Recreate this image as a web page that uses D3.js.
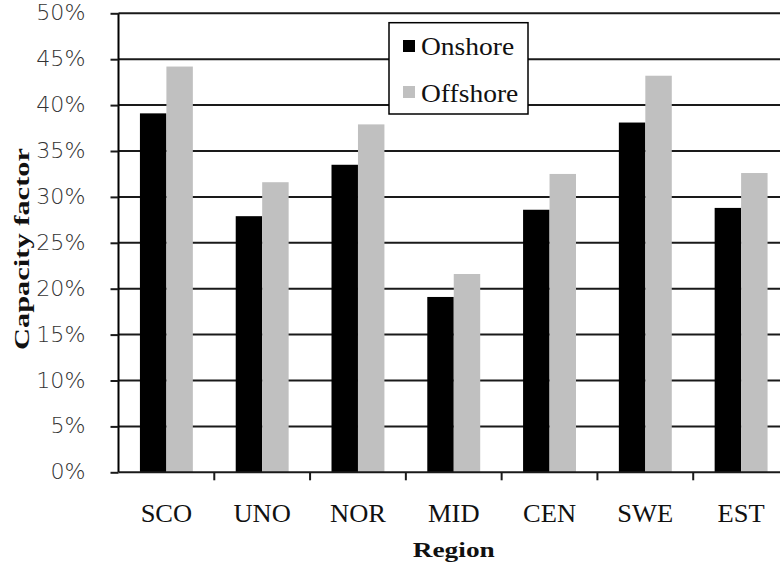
<!DOCTYPE html>
<html><head><meta charset="utf-8">
<script src="https://cdn.jsdelivr.net/npm/d3@7"></script>
<style>body{margin:0;background:#fff}svg{display:block}</style>
</head><body>
<svg id="c" width="780" height="568"></svg>
<script>
const categories = ["SCO","UNO","NOR","MID","CEN","SWE","EST"];
const seriesNames = ["Onshore","Offshore"];
const onshore = [39.1, 27.9, 33.5, 19.1, 28.6, 38.1, 28.8];
const offshore = [44.2, 31.6, 37.9, 21.6, 32.5, 43.2, 32.6];
const yTicks = [0,5,10,15,20,25,30,35,40,45,50];
const colors = {"Onshore":"#000000","Offshore":"#c0c0c0"};

(function(){
const svg = d3.select("#c");
const pL = 118.5, pR = 789, pT = 13.3, pB = 472.3;
const x0 = d3.scaleBand().domain(categories).range([pL, pR]).padding(0);
const x1 = d3.scaleBand().domain(seriesNames).range([0, x0.bandwidth()]).paddingInner(0).paddingOuter(0.81);
const y = d3.scaleLinear().domain([0, 50]).range([pB, pT]);
const vals = {"Onshore": onshore, "Offshore": offshore};

function stretch(sel, f){
  sel.each(function(){
    const w = this.getComputedTextLength();
    d3.select(this).attr("textLength", w*f).attr("lengthAdjust","spacingAndGlyphs");
  });
}

// gridlines
svg.append("g").selectAll("line").data(yTicks.filter(t=>t>0)).join("line")
  .attr("x1", pL).attr("x2", 780).attr("y1", d=>y(d)).attr("y2", d=>y(d))
  .attr("stroke", "#1a1a1a").attr("stroke-width", 2);

// bars
const g = svg.append("g");
categories.forEach((c,i)=>{
  seriesNames.forEach(s=>{
    g.append("rect").attr("x", x0(c)+x1(s)).attr("width", x1.bandwidth())
     .attr("y", y(vals[s][i])).attr("height", pB - y(vals[s][i]))
     .attr("fill", colors[s]);
  });
});

// y axis
const ya = svg.append("g").attr("transform", `translate(${pL},0)`)
  .call(d3.axisLeft(y).tickValues(yTicks).tickSize(8).tickPadding(25).tickFormat(d=>d+"%"));
ya.select(".domain").attr("stroke","#000").attr("stroke-width",2).attr("d", `M0,${pT}V${pB}`);
ya.selectAll(".tick line").attr("stroke","#1a1a1a").attr("stroke-width",2);
const yt = ya.selectAll(".tick text").attr("font-family","DejaVu Sans").attr("font-size",20.5)
  .attr("fill","#333").attr("font-weight","300");
stretch(yt, 1.08);

// x axis
const xa = svg.append("g").attr("transform", `translate(0,${pB})`)
  .call(d3.axisBottom(x0).tickSize(0).tickPadding(0));
xa.select(".domain").attr("stroke","#1a1a1a").attr("stroke-width",2).attr("d", `M${pL},0H780`);
const xt = xa.selectAll(".tick text").attr("font-family","Liberation Serif").attr("font-size",25).attr("fill","#111")
  .attr("dy", null).attr("y", 50);
stretch(xt, 1.06);
svg.append("g").selectAll("line").data(categories.slice(1)).join("line")
  .attr("x1", d=>x0(d)).attr("x2", d=>x0(d)).attr("y1", pB).attr("y2", pB+8)
  .attr("stroke","#1a1a1a").attr("stroke-width",2);

// axis titles
svg.append("text").attr("x", (pL+pR)/2).attr("y", 557).attr("text-anchor","middle")
  .attr("font-family","Liberation Serif").attr("font-weight","bold").attr("font-size",21).attr("fill","#111")
  .attr("textLength",82).attr("lengthAdjust","spacingAndGlyphs").text("Region");
svg.append("text").attr("transform","translate(29,249) rotate(-90)").attr("text-anchor","middle")
  .attr("font-family","Liberation Serif").attr("font-weight","bold").attr("font-size",21).attr("fill","#111")
  .attr("textLength",202).attr("lengthAdjust","spacingAndGlyphs").text("Capacity factor");

// legend
const lg = svg.append("g");
lg.append("rect").attr("x",389).attr("y",22.7).attr("width",139).attr("height",91.3)
  .attr("fill","#fff").attr("stroke","#000").attr("stroke-width",1.5);
seriesNames.forEach((s,i)=>{
  lg.append("rect").attr("x",403).attr("y",40+i*46).attr("width",12).attr("height",12).attr("fill",colors[s]);
  const t = lg.append("text").attr("x",421).attr("y",55+i*46.5).attr("font-family","Liberation Serif")
    .attr("font-size",25).attr("fill","#111").text(s);
  stretch(t, 1.1);
});
})();
</script>
</body></html>
